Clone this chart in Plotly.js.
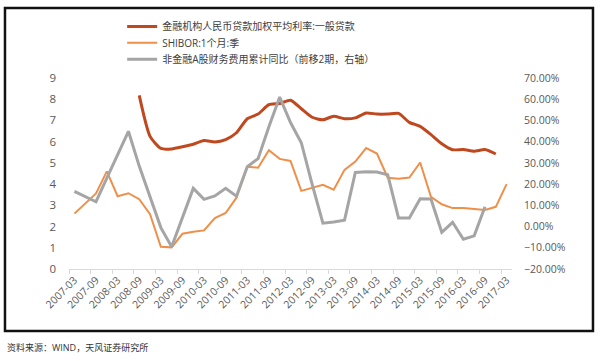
<!DOCTYPE html>
<html>
<head>
<meta charset="utf-8">
<script src="https://cdn.plot.ly/plotly-3.0.1.min.js"></script>
<style>html,body{margin:0;padding:0;background:#fff;}#chart{width:600px;height:361px;}</style>
</head>
<body>
<div id="chart"></div>
<script>
// Quarterly categories 2007-03 .. 2017-03
const quarters = ["2007-03","2007-06","2007-09","2007-12","2008-03","2008-06","2008-09","2008-12",
  "2009-03","2009-06","2009-09","2009-12","2010-03","2010-06","2010-09","2010-12",
  "2011-03","2011-06","2011-09","2011-12","2012-03","2012-06","2012-09","2012-12",
  "2013-03","2013-06","2013-09","2013-12","2014-03","2014-06","2014-09","2014-12",
  "2015-03","2015-06","2015-09","2015-12","2016-03","2016-06","2016-09","2016-12","2017-03"];
const tickLabels = ["2007-03","2007-09","2008-03","2008-09","2009-03","2009-09","2010-03","2010-09",
  "2011-03","2011-09","2012-03","2012-09","2013-03","2013-09","2014-03","2014-09",
  "2015-03","2015-09","2016-03","2016-09","2017-03"];

// 金融机构人民币贷款加权平均利率:一般贷款 (%)
const loanRate = [null,null,null,null,null,null,8.18,6.25,
  5.68,5.66,5.76,5.88,6.05,5.99,6.10,6.42,
  7.08,7.30,7.74,7.80,7.95,7.55,7.15,7.03,
  7.20,7.08,7.12,7.35,7.30,7.30,7.33,6.91,
  6.72,6.33,5.90,5.62,5.63,5.55,5.63,5.42,null];

// SHIBOR:1个月:季 (%)
const shibor = [2.61,3.10,3.56,4.60,3.43,3.57,3.29,2.58,
  1.05,1.02,1.66,1.75,1.82,2.40,2.64,3.36,
  4.82,4.77,5.60,5.19,5.09,3.68,3.82,3.97,
  3.74,4.67,5.06,5.70,5.44,4.30,4.25,4.31,
  5.02,3.40,3.05,2.87,2.87,2.83,2.78,2.93,4.00];

// 非金融A股财务费用累计同比（前移2期，右轴）(%)
const finCostYoY = [16.6,14.3,11.7,22.8,33.8,44.9,28.5,13.5,
  -0.5,-9.5,4.0,18.0,12.8,14.4,18.0,14.3,
  28.2,32.0,47.0,61.0,49.0,39.5,20.0,1.6,
  2.2,3.0,25.5,25.8,25.7,24.4,4.0,4.0,
  13.1,13.0,-2.7,2.0,-6.0,-4.4,9.3,null,null];

const seriesNames = ["金融机构人民币贷款加权平均利率:一般贷款","SHIBOR:1个月:季","非金融A股财务费用累计同比（前移2期，右轴）"];
const sourceText = "资料来源：WIND，天风证券研究所";

const idx = quarters.map((q,i)=>i);
const tickIdx = tickLabels.map(t=>quarters.indexOf(t));

const font = "'Open Sans','Noto Sans CJK SC',sans-serif";

const traces = [
  {x: idx, y: loanRate, name: seriesNames[0], type: 'scatter', mode: 'lines', legend: 'legend',
   line: {color: '#C0481E', width: 3, shape: 'spline', smoothing: 0.6}, yaxis: 'y', text: quarters},
  {x: idx, y: shibor, name: seriesNames[1], type: 'scatter', mode: 'lines', legend: 'legend2',
   line: {color: '#EE8F4A', width: 2}, yaxis: 'y', text: quarters},
  {x: idx, y: finCostYoY, name: seriesNames[2], type: 'scatter', mode: 'lines', legend: 'legend3',
   line: {color: '#A5A5A5', width: 3}, yaxis: 'y2', text: quarters}
];

function leg(y) {
  return {x: 0.12, y: y, xanchor: 'left', yanchor: 'middle', orientation: 'v',
    font: {family: font, size: 10, color: '#404040'}, bgcolor: 'rgba(0,0,0,0)', itemwidth: 30};
}

const layout = {
  width: 600, height: 361,
  margin: {l: 69, r: 88, t: 75, b: 92},
  paper_bgcolor: '#fff', plot_bgcolor: '#fff',
  font: {family: font, size: 11, color: '#595959'},
  showlegend: true,
  legend: leg(1.2696),
  legend2: leg(1.184),
  legend3: leg(1.098),
  xaxis: {range: [-0.5, 40.5], tickmode: 'array', tickvals: tickIdx, ticktext: tickLabels,
    tickangle: -45, ticks: '', showgrid: false, zeroline: false, showline: true,
    linecolor: '#D9D9D9', linewidth: 1, tickfont: {size: 10.5, color: '#595959'},
    minor: {ticks: 'outside', tick0: -0.5, dtick: 2, ticklen: 4, tickcolor: '#D9D9D9', showgrid: false}},
  yaxis: {range: [0, 9], dtick: 1, showgrid: false, zeroline: false, showline: false,
    ticks: '', tickfont: {size: 11.5, color: '#595959'}, ticklabelstandoff: 12},
  yaxis2: {range: [-20, 70], dtick: 10, overlaying: 'y', side: 'right', showgrid: false,
    zeroline: false, showline: false, ticks: '', tickformat: '.2f', ticksuffix: '%',
    tickfont: {size: 10.5, color: '#595959'}, ticklabelstandoff: 11},
  shapes: [
    {type: 'rect', xref: 'paper', yref: 'paper', x0: -0.1445, x1: 1.1828, y0: -0.3247, y1: 1.366,
     line: {color: '#111', width: 2.5}, fillcolor: 'rgba(0,0,0,0)'}
  ],
  annotations: [
    {text: sourceText, xref: 'paper', yref: 'paper', x: -0.1445, y: -0.412, xanchor: 'left', yanchor: 'middle',
     showarrow: false, font: {family: font, size: 9, color: '#333'}}
  ]
};

Plotly.newPlot('chart', traces, layout, {displayModeBar: false, staticPlot: true});
</script>
</body>
</html>
